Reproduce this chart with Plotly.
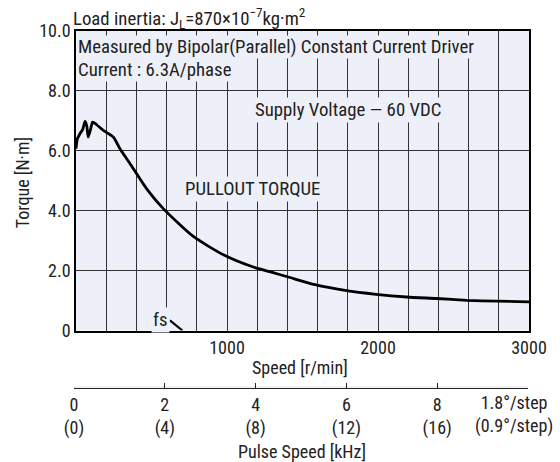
import plotly.graph_objects as go

# ---- data ----
speed_rpm = [0, 9, 26, 44, 60, 71, 81, 97, 110, 137, 181, 247, 291, 358, 468, 578,
             777, 976, 1174, 1300, 1417, 1583, 1782, 1987, 2190, 2389, 2588, 2786, 3000]
torque_nm = [6.07, 6.40, 6.57, 6.71, 6.98, 6.84, 6.46, 6.73, 6.96, 6.87, 6.68, 6.46, 6.07, 5.57, 4.73, 4.07,
             3.14, 2.53, 2.12, 1.94, 1.77, 1.53, 1.34, 1.21, 1.12, 1.07, 1.01, 0.98, 0.96]
fs_rpm = [622, 705]
fs_torque = [0.34, 0.0]

speed_ticks = [1000, 2000, 3000]
torque_ticks = [0, 2, 4, 6, 8, 10]
torque_ticktext = ["0", "2.0", "4.0", "6.0", "8.0", "10.0"]
pulse_ticks = [0, 2, 4, 6, 8]
pulse_ticktext = ["0<br>(0)", "2<br>(4)", "4<br>(8)", "6<br>(12)", "8<br>(16)"]

FONT = "Liberation Sans Narrow, Arial Narrow, Roboto Condensed, sans-serif"
FS = 18
FSA = 18.8
BG = "#edf0f8"
GRID = "#333333"

W, H = 560, 462
ML, MR, MT, MB = 74, 31, 31, 20
PW = W - ML - MR
PH = H - MT - MB

def px(xp):
    return (xp - ML) / PW

def py(yp):
    return (H - MB - yp) / PH

fig = go.Figure()
fig.add_trace(go.Scatter(x=speed_rpm, y=torque_nm, mode="lines",
                         line=dict(color="black", width=2.8, shape="spline", smoothing=0.6),
                         hoverinfo="skip", showlegend=False))
fig.add_trace(go.Scatter(x=fs_rpm, y=fs_torque, mode="lines",
                         line=dict(color="black", width=2.2),
                         hoverinfo="skip", showlegend=False))
# dummy trace for pulse speed axis
fig.add_trace(go.Scatter(x=[0, 10], y=[0, 0], xaxis="x2", yaxis="y2", mode="lines",
                         line=dict(width=0), opacity=0, hoverinfo="skip", showlegend=False))

fig.update_layout(
    width=W, height=H,
    margin=dict(l=ML, r=MR, t=MT, b=MB),
    paper_bgcolor="white",
    plot_bgcolor=BG,
    font=dict(family=FONT, size=FS, color="#222"),
    xaxis=dict(
        domain=[px(76), 1], range=[0, 3000],
        tickvals=speed_ticks, ticktext=[str(v) for v in speed_ticks],
        showgrid=True, gridcolor=GRID, gridwidth=1.2,
        minor=dict(dtick=200, showgrid=True, gridcolor=GRID, gridwidth=1.2, ticks=""),
        showline=True, linecolor="black", linewidth=1.5, mirror=True,
        ticks="", zeroline=False, anchor="y",
    ),
    yaxis=dict(
        domain=[py(332), 1], range=[0, 10],
        tickvals=torque_ticks, ticktext=torque_ticktext,
        showgrid=True, gridcolor=GRID, gridwidth=1.2,
        showline=True, linecolor="black", linewidth=1.5, mirror=True,
        ticks="", zeroline=False, anchor="x",
    ),
    xaxis2=dict(
        domain=[0, px(528)], range=[0, 10], anchor="y2",
        tickvals=pulse_ticks, ticktext=pulse_ticktext,
        showgrid=False, zeroline=False,
        showline=True, linecolor="#222", linewidth=1.2,
        ticks="inside", ticklen=5, tickcolor="#222", tickwidth=1.2,
    ),
    yaxis2=dict(domain=[py(390), py(388)], visible=False, range=[0, 1], anchor="x2"),
)

annos = [
    dict(text="Measured by Bipolar(Parallel) Constant Current Driver", x=px(77), y=py(35),
         xanchor="left", yanchor="top", height=22, borderpad=0),
    dict(text="Current : 6.3A/phase", x=px(77), y=py(57), xanchor="left", yanchor="top",
         height=23, borderpad=0),
    dict(text="Supply Voltage — 60 VDC", x=px(348), y=py(110), xanchor="center", yanchor="middle",
         borderpad=1),
    dict(text="PULLOUT TORQUE", x=px(252), y=py(190), xanchor="center", yanchor="middle",
         borderpad=1),
    dict(text="fs", x=px(160), y=py(321), xanchor="center", yanchor="middle", borderpad=1),
]
for a in annos:
    fig.add_annotation(xref="paper", yref="paper", showarrow=False, bgcolor=BG,
                       font=dict(family=FONT, size=FSA, color="#222"), **a)

# outside texts
fig.add_annotation(xref="paper", yref="paper", showarrow=False, x=px(71), y=py(18),
                   xanchor="left", yanchor="middle",
                   text="Load inertia: J<sub>L</sub>=870×10<sup>−7</sup>kg·m<sup>2</sup>",
                   font=dict(family=FONT, size=FSA, color="#222"))
fig.add_annotation(xref="paper", yref="paper", showarrow=False, x=px(300), y=py(369),
                   xanchor="center", yanchor="middle", text="Speed [r/min]")
fig.add_annotation(xref="paper", yref="paper", showarrow=False, x=px(22), y=py(184),
                   xanchor="center", yanchor="middle", text="Torque [N·m]", textangle=-90)
fig.add_annotation(xref="paper", yref="paper", showarrow=False, x=px(514), y=py(416),
                   xanchor="center", yanchor="middle", text="1.8°/step<br>(0.9°/step)")
fig.add_annotation(xref="paper", yref="paper", showarrow=False, x=px(302), y=py(454),
                   xanchor="center", yanchor="middle", text="Pulse Speed [kHz]")

fig.write_html("out.html", config={"displayModeBar": False},
               post_script="document.body.style.margin='0';document.body.style.overflow='hidden';")
